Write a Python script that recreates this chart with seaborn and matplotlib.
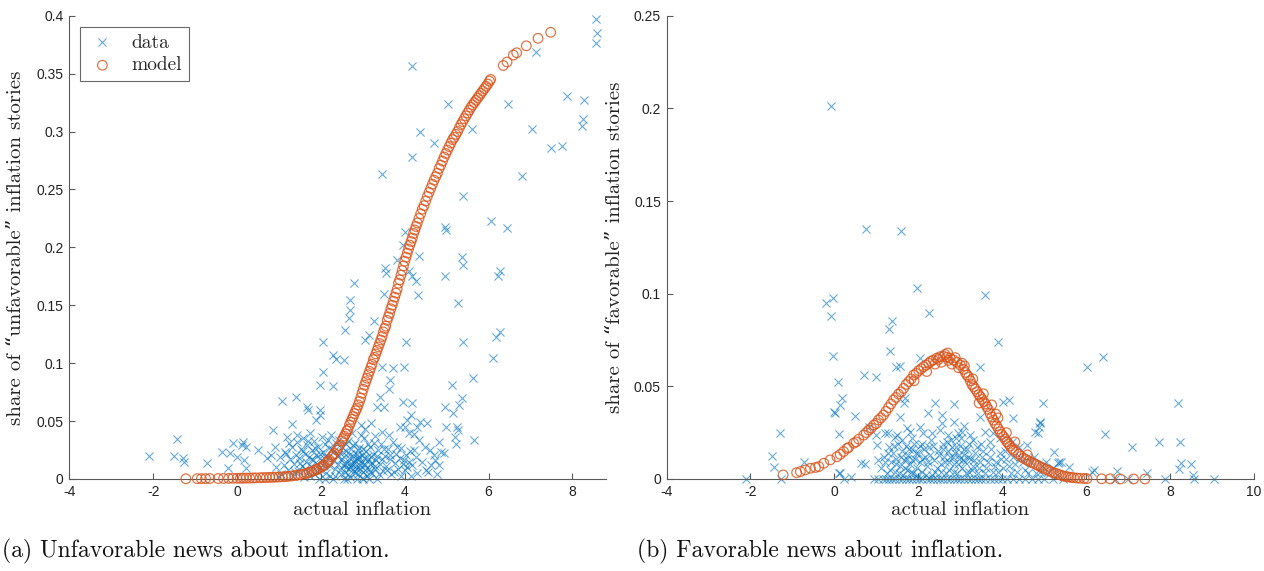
import matplotlib
matplotlib.use('Agg')
import matplotlib.pyplot as plt
import seaborn as sns
import pandas as pd

# ---- data (x = actual inflation, y = share of stories) ----
# panel (a): unfavorable news, observed shares
data_a = [
    (4.17, 0.357), (8.55, 0.397), (8.59, 0.385), (8.55, 0.376), (7.12, 0.369), (7.88, 0.331),
    (8.27, 0.327), (8.26, 0.311), (8.22, 0.305), (7.76, 0.2875), (7.48, 0.2855), (7.04, 0.302),
    (6.80, 0.262), (6.47, 0.3235), (5.61, 0.302), (5.03, 0.324), (4.36, 0.300), (4.69, 0.290),
    (4.17, 0.278), (3.46, 0.263), (5.38, 0.244), (6.05, 0.223), (6.43, 0.217), (4.00, 0.2135),
    (4.97, 0.2175), (4.99, 0.215), (3.96, 0.202), (4.33, 0.1925), (5.37, 0.1917), (5.39, 0.185),
    (3.82, 0.189), (3.54, 0.182), (3.56, 0.178), (4.09, 0.180), (4.17, 0.175), (4.28, 0.171),
    (4.95, 0.175), (6.28, 0.180), (6.22, 0.175), (4.31, 0.159), (3.50, 0.160), (2.80, 0.169),
    (2.70, 0.1545), (2.70, 0.146), (2.66, 0.139), (2.58, 0.129), (3.26, 0.136), (3.14, 0.124),
    (3.06, 0.120), (4.04, 0.1185), (2.06, 0.1185), (2.30, 0.107), (2.36, 0.104), (2.54, 0.1027),
    (2.06, 0.0926), (3.46, 0.097), (3.73, 0.0955), (3.99, 0.097), (1.97, 0.081), (2.28, 0.080),
    (3.66, 0.0855), (3.62, 0.078), (1.41, 0.071), (1.07, 0.0676), (1.67, 0.0624), (1.70, 0.0596),
    (1.98, 0.0596), (1.98, 0.055), (1.89, 0.051), (3.42, 0.071), (3.34, 0.0624), (3.50, 0.0624),
    (4.17, 0.0653), (4.16, 0.0553), (4.37, 0.0495), (4.53, 0.048), (2.96, 0.0466), (3.19, 0.0486),
    (3.46, 0.0408), (3.62, 0.038), (1.31, 0.0475), (0.87, 0.0423), (1.19, 0.0365), (1.43, 0.038),
    (-0.09, 0.0308), (0.15, 0.0322), (-0.37, 0.0236), (-0.17, 0.0222), (-0.01, 0.0193), (-0.72, 0.0135),
    (-1.28, 0.0179), (-1.27, 0.015), (0.51, 0.025), (0.71, 0.0179), (0.91, 0.0279), (1.03, 0.0193),
    (1.15, 0.0236), (-2.11, 0.0201), (-1.50, 0.020), (-1.43, 0.0343), (-0.22, 0.0098), (0.12, 0.0294),
    (0.21, 0.0279), (0.16, 0.0164), (0.21, 0.0092), (0.81, 0.0207), (5.26, 0.152), (5.40, 0.1185),
    (5.13, 0.081), (5.63, 0.087), (5.37, 0.0697), (5.30, 0.064), (4.97, 0.0624), (4.99, 0.045),
    (5.16, 0.0567), (5.24, 0.045), (5.28, 0.0423), (5.20, 0.0365), (5.23, 0.030), (5.65, 0.0337),
    (6.10, 0.1045), (6.18, 0.1223), (6.28, 0.127), (3.96, 0.0668), (4.05, 0.051), (3.88, 0.045),
    (4.00, 0.045), (4.09, 0.0395), (4.22, 0.0386), (4.30, 0.045), (4.35, 0.0337), (4.22, 0.025),
    (4.26, 0.0193), (4.30, 0.005), (4.48, 0.0279), (4.60, 0.025), (4.69, 0.0207), (4.73, 0.0164),
    (4.82, 0.0121), (4.56, 0.0063), (4.82, 0.0322), (4.86, 0.0236), (4.94, 0.0222),
    (1.05, 0.004), (1.12, 0.012), (1.18, 0.022), (1.22, 0.008), (1.27, 0.017), (1.30, 0.028),
    (1.33, 0.003), (1.36, 0.013), (1.40, 0.021), (1.43, 0.032), (1.46, 0.007), (1.49, 0.018),
    (1.52, 0.026), (1.55, 0.011), (1.58, 0.035), (1.60, 0.002), (1.62, 0.022), (1.65, 0.015),
    (1.67, 0.029), (1.70, 0.006), (1.72, 0.019), (1.74, 0.040), (1.77, 0.011), (1.80, 0.025),
    (1.82, 0.016), (1.84, 0.033), (1.87, 0.004), (1.89, 0.021), (1.92, 0.012), (1.94, 0.028),
    (1.97, 0.018), (2.00, 0.008), (2.02, 0.036), (2.05, 0.023), (2.08, 0.014), (2.10, 0.030),
    (2.13, 0.005), (2.16, 0.019), (2.19, 0.027), (2.22, 0.011), (2.25, 0.038), (2.28, 0.016),
    (2.31, 0.024), (2.34, 0.003), (2.37, 0.031), (2.40, 0.013), (2.42, 0.021), (2.45, 0.008),
    (2.47, 0.017), (2.50, 0.028), (2.52, 0.012), (2.54, 0.000), (2.56, 0.019), (2.58, 0.006),
    (2.60, 0.024), (2.62, 0.014), (2.64, 0.033), (2.66, 0.009), (2.68, 0.018), (2.70, 0.002),
    (2.72, 0.026), (2.74, 0.013), (2.76, 0.020), (2.78, 0.007), (2.80, 0.015), (2.82, 0.031),
    (2.84, 0.011), (2.86, 0.022), (2.88, 0.004), (2.90, 0.017), (2.92, 0.027), (2.94, 0.009),
    (2.96, 0.014), (2.98, 0.021), (3.00, 0.006), (3.02, 0.018), (3.04, 0.035), (3.06, 0.012),
    (3.08, 0.024), (3.10, 0.003), (3.12, 0.016), (3.14, 0.009), (3.16, 0.028), (3.18, 0.013),
    (3.20, 0.019), (3.22, 0.005), (3.25, 0.022), (3.28, 0.011), (3.31, 0.016), (3.34, 0.000),
    (3.37, 0.025), (1.95, 0.000), (2.10, 0.000), (2.30, 0.000), (2.63, 0.000), (2.85, 0.000),
    (3.00, 0.000), (3.15, 0.000), (3.40, 0.013), (3.44, 0.030), (3.48, 0.007), (3.52, 0.020),
    (3.56, 0.011), (3.60, 0.026), (3.64, 0.017), (3.68, 0.004), (3.72, 0.032), (3.76, 0.014),
    (3.80, 0.022), (3.84, 0.009), (3.88, 0.018), (3.92, 0.027), (3.95, 0.013), (3.98, 0.016),
    (4.02, 0.021), (4.05, 0.010), (4.10, 0.015), (4.15, 0.003), (2.75, 0.040), (2.95, 0.038),
    (3.05, 0.043), (3.30, 0.037), (0.93, 0.010), (1.00, 0.002),
    (1.25, 0.031), (1.38, 0.006), (1.50, 0.014), (1.57, 0.024), (1.63, 0.009), (1.69, 0.033),
    (1.75, 0.003), (1.79, 0.017), (1.86, 0.027), (1.91, 0.007), (1.99, 0.022), (2.04, 0.012),
    (2.11, 0.020), (2.17, 0.034), (2.21, 0.003), (2.27, 0.026), (2.33, 0.009), (2.39, 0.020),
    (2.44, 0.034), (2.49, 0.004), (2.53, 0.023), (2.57, 0.013), (2.61, 0.030), (2.65, 0.004),
    (2.69, 0.022), (2.73, 0.010), (2.77, 0.029), (2.81, 0.005), (2.85, 0.018), (2.89, 0.025),
    (2.93, 0.012), (2.97, 0.001), (3.01, 0.026), (3.05, 0.008), (3.09, 0.019), (3.13, 0.030),
    (3.17, 0.006), (3.21, 0.014), (3.26, 0.031), (3.30, 0.009), (3.35, 0.020), (3.39, 0.004),
    (3.45, 0.017), (3.50, 0.026), (3.58, 0.008), (3.66, 0.021), (3.74, 0.006), (3.82, 0.028),
    (3.90, 0.003), (4.00, 0.008), (4.12, 0.024), (4.18, 0.012), (4.40, 0.015), (4.50, 0.008),
    (4.62, 0.012), (4.78, 0.004), (2.60, 0.010), (2.78, 0.016), (2.87, 0.009), (3.03, 0.013),
    (2.71, 0.012), (2.91, 0.019),
]

# panel (a): model fit
model_a = [
    (-1.22, 0.0002), (-0.95, 0.0003), (-0.85, 0.0003), (-0.75, 0.0003), (-0.65, 0.0004),
    (-0.45, 0.0004), (-0.32, 0.0005), (-0.20, 0.0005), (-0.10, 0.0006), (0.00, 0.0006),
    (0.08, 0.0007), (0.15, 0.0007), (0.22, 0.0008), (0.30, 0.0008), (0.38, 0.0009),
    (0.45, 0.0010), (0.55, 0.0011), (0.62, 0.0012), (0.70, 0.0013), (0.78, 0.0014),
    (0.85, 0.0015), (0.92, 0.0016), (1.00, 0.0017), (1.08, 0.0019), (1.15, 0.0021),
    (1.22, 0.0023), (1.30, 0.0026), (1.38, 0.0030), (1.45, 0.0034), (1.52, 0.0038),
    (1.60, 0.0044), (1.66, 0.0050), (1.72, 0.0057), (1.78, 0.0064), (1.84, 0.0072),
    (1.90, 0.0080), (1.96, 0.0092), (2.02, 0.0106), (2.08, 0.0122), (2.14, 0.0140),
    (2.20, 0.0165), (2.26, 0.0190), (2.32, 0.0220), (2.38, 0.0250), (2.44, 0.0290),
    (2.50, 0.0330), (2.56, 0.0370), (2.62, 0.0415), (2.68, 0.0465), (2.74, 0.0515),
    (2.80, 0.0565), (2.86, 0.0610), (2.92, 0.0670), (2.98, 0.0740), (3.04, 0.0810),
    (3.10, 0.0870), (3.16, 0.0930), (3.22, 0.0990), (3.28, 0.1050), (3.34, 0.1110),
    (3.40, 0.1170), (3.46, 0.1230), (3.52, 0.1300), (3.58, 0.1370), (3.64, 0.1430),
    (3.70, 0.1500), (3.76, 0.1570), (3.82, 0.1640), (3.88, 0.1720), (3.94, 0.1800),
    (4.00, 0.1880), (4.06, 0.1950), (4.12, 0.2020), (4.18, 0.2080), (4.24, 0.2150),
    (4.30, 0.2210), (4.38, 0.2290), (4.46, 0.2360), (4.54, 0.2440), (4.62, 0.2510),
    (4.70, 0.2580), (4.78, 0.2640), (4.86, 0.2710), (4.94, 0.2780), (5.02, 0.2840),
    (5.10, 0.2900), (5.18, 0.2950), (5.26, 0.3000), (5.34, 0.3060), (5.42, 0.3110),
    (5.50, 0.3160), (5.58, 0.3210), (5.66, 0.3250), (5.74, 0.3290), (5.82, 0.3330),
    (5.90, 0.3370), (5.98, 0.3410), (6.05, 0.3450), (6.35, 0.3570), (6.44, 0.3600),
    (6.59, 0.3660), (6.67, 0.3680), (6.90, 0.3740), (7.18, 0.3805), (7.48, 0.3857),
    (2.95, 0.0700), (3.25, 0.1030), (3.55, 0.1320), (3.85, 0.1690), (2.65, 0.0430),
    (1.90, 0.0085), (2.05, 0.0115), (2.17, 0.0150), (2.29, 0.0205), (2.41, 0.0270),
    (2.53, 0.0350), (2.59, 0.0390), (2.71, 0.0490), (2.77, 0.0540), (2.83, 0.0590),
    (2.89, 0.0640), (3.01, 0.0775), (3.07, 0.0840), (3.13, 0.0900), (3.19, 0.0960),
    (3.31, 0.1080), (3.37, 0.1140), (3.43, 0.1200), (3.49, 0.1270), (3.61, 0.1400),
    (3.67, 0.1470), (3.73, 0.1535), (3.79, 0.1605), (3.91, 0.1760), (3.97, 0.1840),
    (4.03, 0.1915), (4.09, 0.1985), (4.15, 0.2050), (4.21, 0.2120), (4.27, 0.2180),
    (4.34, 0.2250), (4.42, 0.2330), (4.50, 0.2400), (4.58, 0.2475), (4.66, 0.2545),
    (4.74, 0.2610), (4.82, 0.2680), (4.90, 0.2745), (4.98, 0.2810), (5.06, 0.2870),
    (5.14, 0.2930), (5.22, 0.2975), (5.30, 0.3030), (5.38, 0.3085), (5.46, 0.3135),
    (5.54, 0.3185), (5.62, 0.3230), (5.70, 0.3270), (5.78, 0.3310), (5.86, 0.3350),
    (5.94, 0.3390), (6.02, 0.3435),
]

# panel (b): favorable news, observed shares
data_b = [
    (-0.09, 0.2013), (0.75, 0.1349), (1.59, 0.134), (1.97, 0.1029), (3.60, 0.0993), (-0.21, 0.0951),
    (-0.03, 0.0978), (-0.08, 0.0881), (2.25, 0.0898), (1.37, 0.0854), (1.31, 0.0808), (1.32, 0.0691),
    (3.89, 0.0738), (-0.04, 0.0664), (2.05, 0.0651), (1.48, 0.0606), (1.57, 0.061), (3.48, 0.0606),
    (0.71, 0.0561), (1.00, 0.0549), (0.09, 0.0525), (0.18, 0.0435), (0.13, 0.0399), (-0.02, 0.0363),
    (0.02, 0.0354), (0.50, 0.0342), (1.69, 0.0435), (1.67, 0.0408), (2.40, 0.0408), (2.84, 0.0403),
    (4.03, 0.0414), (4.17, 0.0426), (4.97, 0.0408), (1.57, 0.0336), (2.23, 0.0354), (2.56, 0.0345),
    (2.56, 0.0304), (2.84, 0.0309), (3.10, 0.0288), (3.48, 0.0336), (4.25, 0.0327), (4.90, 0.030),
    (4.79, 0.0255), (4.86, 0.0246), (5.24, 0.0147), (5.34, 0.0085), (5.40, 0.0093), (-1.29, 0.0247),
    (-1.48, 0.0126), (-1.44, 0.0066), (-2.10, 0.0), (-1.27, 0.0), (-0.73, 0.0093), (0.13, 0.0034),
    (0.24, 0.0), (0.63, 0.0085), (1.00, 0.0237), (0.82, 0.0282), (1.21, 0.0247), (1.29, 0.0247),
    (1.45, 0.0228), (1.73, 0.0273), (1.81, 0.0255), (2.05, 0.0282), (2.11, 0.0247), (2.33, 0.0247),
    (2.52, 0.0264), (3.04, 0.0255), (3.24, 0.0237), (3.60, 0.0255), (3.79, 0.0247), (3.95, 0.022),
    (4.23, 0.0201), (4.39, 0.0174), (4.59, 0.0183), (6.01, 0.0603), (6.39, 0.066), (6.44, 0.0243),
    (7.10, 0.0174), (7.73, 0.0201), (8.20, 0.0408), (8.24, 0.0201), (8.22, 0.0054), (8.27, 0.0085),
    (8.51, 0.0081), (8.54, 0.0022), (8.56, 0.0), (9.05, 0.0), (7.88, 0.0), (7.46, 0.003),
    (6.74, 0.0043), (6.68, 0.0), (7.00, 0.0), (6.13, 0.004), (6.18, 0.0049), (5.60, 0.0066),
    (5.35, 0.0093), (4.91, 0.0309), (4.87, 0.0282), (0.12, 0.0243), (0.10, 0.0034), (0.40, 0.0013),
    (1.01, 0.0183), (1.03, 0.0103), (0.72, 0.0081),
    (0.95, 0.0), (1.05, 0.0), (1.15, 0.0), (1.22, 0.0), (1.30, 0.0), (1.38, 0.0), (1.45, 0.0),
    (1.55, 0.0), (1.62, 0.0), (1.70, 0.0), (1.78, 0.0), (1.85, 0.0), (1.95, 0.0), (2.02, 0.0),
    (2.10, 0.0), (2.20, 0.0), (2.28, 0.0), (2.35, 0.0), (2.45, 0.0), (2.52, 0.0), (2.60, 0.0),
    (2.68, 0.0), (2.75, 0.0), (2.85, 0.0), (2.92, 0.0), (3.00, 0.0), (3.10, 0.0), (3.18, 0.0),
    (3.25, 0.0), (3.35, 0.0), (3.42, 0.0), (3.50, 0.0), (3.60, 0.0), (3.70, 0.0), (3.80, 0.0),
    (3.90, 0.0), (4.00, 0.0), (4.12, 0.0), (4.25, 0.0), (4.40, 0.0), (4.55, 0.0), (4.70, 0.0),
    (4.85, 0.0), (5.00, 0.0), (5.20, 0.0), (5.45, 0.0),
    (1.10, 0.006), (1.18, 0.012), (1.25, 0.003), (1.30, 0.017), (1.35, 0.009), (1.40, 0.014),
    (1.44, 0.004), (1.48, 0.011), (1.52, 0.019), (1.56, 0.007), (1.60, 0.015), (1.63, 0.002),
    (1.66, 0.010), (1.70, 0.018), (1.73, 0.005), (1.76, 0.013), (1.80, 0.008), (1.84, 0.016),
    (1.88, 0.003), (1.92, 0.011), (1.96, 0.006), (2.00, 0.014), (2.05, 0.009), (2.10, 0.004),
    (2.15, 0.012), (2.20, 0.007), (2.26, 0.017), (2.32, 0.002), (2.38, 0.010), (2.44, 0.006),
    (2.50, 0.013), (2.55, 0.004), (2.60, 0.016), (2.64, 0.009), (2.68, 0.020), (2.72, 0.005),
    (2.76, 0.012), (2.80, 0.017), (2.84, 0.008), (2.88, 0.014), (2.92, 0.003), (2.96, 0.011),
    (3.00, 0.018), (3.04, 0.006), (3.08, 0.013), (3.12, 0.009), (3.16, 0.016), (3.20, 0.004),
    (3.25, 0.011), (3.30, 0.007), (3.36, 0.014), (3.42, 0.003), (3.48, 0.009), (3.55, 0.015),
    (3.62, 0.006), (3.70, 0.012), (3.78, 0.004), (3.86, 0.009), (3.94, 0.014), (4.02, 0.006),
    (4.10, 0.011), (4.20, 0.003), (4.30, 0.008), (4.42, 0.012), (4.55, 0.005), (4.68, 0.009),
    (4.80, 0.003), (4.95, 0.007), (5.10, 0.004), (5.30, 0.002),
    (1.50, 0.024), (1.85, 0.022), (2.30, 0.021), (2.70, 0.024), (2.90, 0.022), (3.30, 0.021),
    (3.70, 0.020), (2.10, 0.019), (2.95, 0.025), (3.50, 0.019),
    (1.20, 0.009), (1.28, 0.014), (1.33, 0.005), (1.42, 0.018), (1.47, 0.008), (1.53, 0.003),
    (1.58, 0.012), (1.61, 0.021), (1.68, 0.006), (1.72, 0.011), (1.78, 0.016), (1.82, 0.004),
    (1.86, 0.010), (1.90, 0.019), (1.94, 0.014), (1.98, 0.002), (2.03, 0.018), (2.08, 0.011),
    (2.13, 0.016), (2.18, 0.002), (2.24, 0.009), (2.29, 0.013), (2.35, 0.018), (2.41, 0.004),
    (2.47, 0.015), (2.53, 0.008), (2.58, 0.019), (2.62, 0.012), (2.66, 0.003), (2.70, 0.015),
    (2.74, 0.009), (2.78, 0.021), (2.82, 0.012), (2.86, 0.004), (2.90, 0.017), (2.94, 0.008),
    (2.98, 0.013), (3.02, 0.022), (3.06, 0.010), (3.10, 0.016), (3.14, 0.003), (3.18, 0.012),
    (3.22, 0.019), (3.28, 0.005), (3.33, 0.010), (3.39, 0.017), (3.45, 0.006), (3.52, 0.012),
    (3.58, 0.003), (3.66, 0.009), (3.74, 0.016), (3.82, 0.007), (3.90, 0.004), (3.98, 0.011),
    (4.06, 0.015), (4.15, 0.007), (4.25, 0.012), (4.35, 0.004), (4.50, 0.009), (4.62, 0.003),
    (4.75, 0.012), (4.90, 0.004), (5.05, 0.009), (5.20, 0.006),
]

# panel (b): model fit
model_b = [
    (-1.22, 0.0022), (-0.90, 0.0034), (-0.81, 0.0040), (-0.69, 0.0049), (-0.57, 0.0058),
    (-0.45, 0.0062), (-0.37, 0.0067), (-0.25, 0.0085), (-0.10, 0.0103), (0.06, 0.0120),
    (0.14, 0.0133), (0.22, 0.0148), (0.34, 0.0170), (0.46, 0.0193), (0.58, 0.0215),
    (0.70, 0.0237), (0.82, 0.0264), (0.94, 0.0291), (1.05, 0.0318), (1.17, 0.0345),
    (1.29, 0.0385), (1.41, 0.0426), (1.53, 0.0458), (1.65, 0.0489), (1.77, 0.0525),
    (1.89, 0.0561), (2.01, 0.0585), (2.13, 0.0606), (2.25, 0.0625), (2.36, 0.0642),
    (2.44, 0.0652), (2.52, 0.0660), (2.60, 0.0662), (2.68, 0.0657), (2.76, 0.0652),
    (2.84, 0.0642), (2.92, 0.0630), (3.00, 0.0615), (3.08, 0.0592), (3.16, 0.0561),
    (3.24, 0.0530), (3.32, 0.0498), (3.40, 0.0471), (3.48, 0.0444), (3.56, 0.0417),
    (3.63, 0.0390), (3.71, 0.0354), (3.79, 0.0318), (3.87, 0.0287), (3.95, 0.0255),
    (4.03, 0.0228), (4.11, 0.0201), (4.19, 0.0178), (4.27, 0.0156), (4.39, 0.0134),
    (4.51, 0.0112), (4.63, 0.0098), (4.75, 0.0085), (4.87, 0.0071), (4.98, 0.0058),
    (5.10, 0.0046), (5.22, 0.0034), (5.34, 0.0025), (5.46, 0.0016), (5.58, 0.0011),
    (5.70, 0.0007), (5.85, 0.0004), (6.02, 0.0002), (6.37, 0.0001), (6.57, 0.0001),
    (6.81, 0.0), (7.13, 0.0), (7.40, 0.0),
    (1.90, 0.0530), (2.20, 0.0580), (2.40, 0.0620), (2.55, 0.0630), (2.70, 0.0680),
    (2.80, 0.0620), (3.10, 0.0610), (3.30, 0.0540), (3.45, 0.0410), (3.55, 0.0460),
    (3.75, 0.0400), (3.85, 0.0350), (3.90, 0.0330), (4.10, 0.0250), (4.30, 0.0200),
    (4.60, 0.0130),
    (0.30, 0.0165), (0.52, 0.0200), (0.76, 0.0250), (0.88, 0.0275), (1.00, 0.0300),
    (1.11, 0.0330), (1.23, 0.0365), (1.35, 0.0405), (1.47, 0.0440), (1.59, 0.0470),
    (1.71, 0.0510), (1.83, 0.0540), (1.95, 0.0570), (2.07, 0.0595), (2.19, 0.0615),
    (2.30, 0.0635), (2.48, 0.0645), (2.64, 0.0672), (2.72, 0.0640), (2.88, 0.0655),
    (2.96, 0.0600), (3.04, 0.0625), (3.12, 0.0575), (3.20, 0.0550), (3.28, 0.0510),
    (3.36, 0.0485), (3.44, 0.0455), (3.52, 0.0430), (3.60, 0.0405), (3.67, 0.0375),
    (3.75, 0.0335), (3.83, 0.0300), (3.91, 0.0270), (3.99, 0.0240), (4.07, 0.0215),
    (4.15, 0.0190), (4.23, 0.0165), (4.33, 0.0145), (4.45, 0.0122), (4.57, 0.0105),
    (4.69, 0.0090), (4.81, 0.0078), (4.93, 0.0064), (5.04, 0.0052), (5.16, 0.0040),
    (5.28, 0.0030), (5.40, 0.0020), (5.52, 0.0013), (5.64, 0.0009), (5.78, 0.0005),
    (5.95, 0.0003),
]

xticks_a = [-4, -2, 0, 2, 4, 6, 8]
xticks_b = [-4, -2, 0, 2, 4, 6, 8, 10]
yticks_a = [0, 0.05, 0.1, 0.15, 0.2, 0.25, 0.3, 0.35, 0.4]
ylabels_a = ['0', '0.05', '0.1', '0.15', '0.2', '0.25', '0.3', '0.35', '0.4']
yticks_b = [0, 0.05, 0.1, 0.15, 0.2, 0.25]
ylabels_b = ['0', '0.05', '0.1', '0.15', '0.2', '0.25']

BLUE = '#0072BD'
ORANGE = '#D95319'
SERIF = ['cmr10', 'DejaVu Serif']

sns.set_style('ticks')
plt.rcParams['font.family'] = ['Liberation Sans', 'DejaVu Sans']
plt.rcParams['axes.unicode_minus'] = False

fig = plt.figure(figsize=(12.64, 5.71), dpi=100)
ax_a = fig.add_axes([69.3 / 1264, 92 / 571, 536.7 / 1264, 463.3 / 571])
ax_b = fig.add_axes([666.5 / 1264, 92 / 571, 587.5 / 1264, 463.3 / 571])


def draw_panel(ax, data, model, xlim, ylim, xticks, yticks, ylabels, ylab, xlab_x, ylab_x):
    d = pd.DataFrame(data, columns=['x', 'y'])
    m = pd.DataFrame(model, columns=['x', 'y'])
    sns.scatterplot(data=d, x='x', y='y', ax=ax, marker='x', color=BLUE, s=34,
                    linewidth=0.8, alpha=0.6, label='data', clip_on=False, zorder=2)
    sns.scatterplot(data=m, x='x', y='y', ax=ax, marker='o', facecolors='none',
                    edgecolor=ORANGE, s=48, linewidth=0.9, alpha=0.8, label='model',
                    clip_on=False, zorder=3)
    ax.set_xlim(*xlim)
    ax.set_ylim(*ylim)
    ax.set_xticks(xticks)
    ax.set_xticklabels([str(t) for t in xticks])
    ax.set_yticks(yticks)
    ax.set_yticklabels(ylabels)
    sns.despine(ax=ax)
    for sp in ['left', 'bottom']:
        ax.spines[sp].set_color('#5a5a5a')
        ax.spines[sp].set_linewidth(0.8)
    ax.tick_params(direction='in', length=4, width=0.8, color='#5a5a5a',
                   labelsize=10, labelcolor='#222222', pad=4)
    ax.set_xlabel('actual inflation', family=SERIF, fontsize=15, color='#222222')
    ax.set_ylabel(ylab, family=SERIF, fontsize=15, color='#222222')
    ax.xaxis.set_label_coords(xlab_x, -0.048)
    ax.yaxis.set_label_coords(ylab_x, 0.5)


draw_panel(ax_a, data_a, model_a, (-4, 8.8), (0, 0.4), xticks_a, yticks_a, ylabels_a,
           'share of \u201cunfavorable\u201d inflation stories', 0.546, -0.082)
draw_panel(ax_b, data_b, model_b, (-4, 10), (0, 0.25), xticks_b, yticks_b, ylabels_b,
           'share of \u201cfavorable\u201d inflation stories', 0.5, -0.073)

leg = ax_a.legend(loc='upper left', bbox_to_anchor=(0.02, 0.976), borderaxespad=0,
                  prop={'family': SERIF, 'size': 14},
                  frameon=True, fancybox=False, edgecolor='#444444', borderpad=0.35,
                  handlelength=1.6, handletextpad=0.7, labelspacing=0.25, markerscale=1.0)
leg.get_frame().set_linewidth(0.8)
ax_b.get_legend().remove()

fig.text(2 / 1264, 1 - 551 / 571, '(a) Unfavorable news about inflation.', family=SERIF,
         fontsize=17, va='center', ha='left', color='#111111')
fig.text(637 / 1264, 1 - 551 / 571, '(b) Favorable news about inflation.', family=SERIF,
         fontsize=17, va='center', ha='left', color='#111111')

fig.savefig('out.png', dpi=100)
